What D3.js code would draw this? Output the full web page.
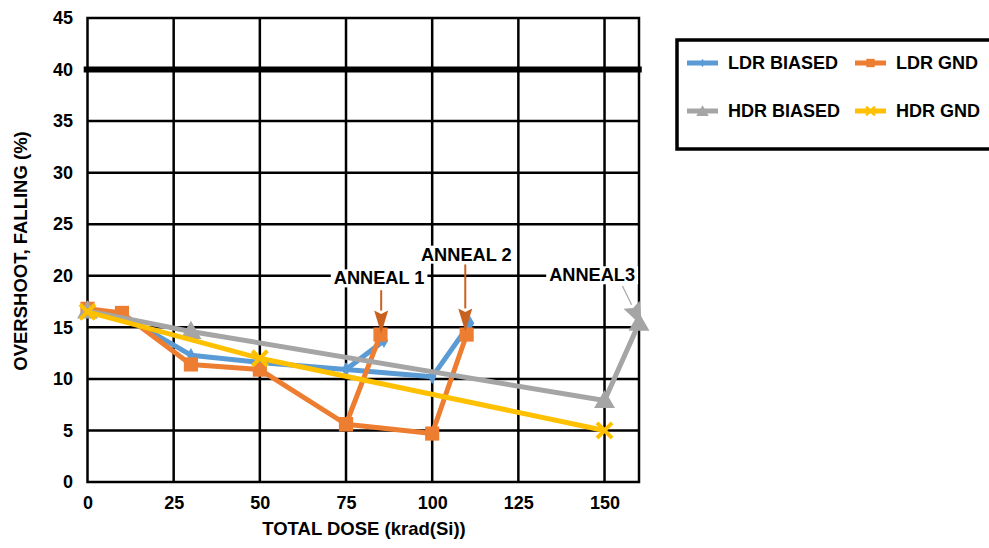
<!DOCTYPE html>
<html>
<head>
<meta charset="utf-8">
<script src="https://cdn.jsdelivr.net/npm/d3@7"></script>
<style>
  body { margin: 0; background: #fff; }
  svg { display: block; font-family: "Liberation Sans", Arial, sans-serif; font-weight: bold; }
</style>
</head>
<body>
<div class="div-chart"></div>
<script>
// series: total dose (krad(Si)) and falling overshoot (%)
const ldrBiasedDose = [0, 10, 30, 50, 75, 86, 75, 100, 111];
const ldrBiasedVal  = [16.6, 16.2, 12.3, 11.6, 10.9, 13.7, 10.9, 10.2, 15.4];
const ldrGndDose    = [0, 10, 30, 50, 75, 85, 75, 100, 110];
const ldrGndVal     = [16.8, 16.4, 11.4, 10.9, 5.6, 14.3, 5.6, 4.7, 14.3];
const hdrBiasedDose = [0, 30, 150, 160];
const hdrBiasedVal  = [16.6, 14.6, 7.9, 15.4];
const hdrGndDose    = [0, 50, 150];
const hdrGndVal     = [16.5, 12.0, 5.0];

const limitDose = [-1.1, 160.8];
const limitVal  = [40, 40];

const seriesNames = ['LDR BIASED', 'LDR GND', 'HDR BIASED', 'HDR GND'];
const xTicks = [0, 25, 50, 75, 100, 125, 150];
const yTicks = [0, 5, 10, 15, 20, 25, 30, 35, 40, 45];

// annotation labels: text anchor and arrow from/to, in data units
const annoLabels = ['ANNEAL 1', 'ANNEAL 2', 'ANNEAL3'];
const annoText   = [[84.6, 19.8], [109.9, 22.1], [146.4, 20.1]];
const annoFrom   = [[85.2, 18.6], [109.6, 21.1], [155.2, 19.0]];
const annoTo     = [[85.2, 14.4], [109.6, 14.6], [160.9, 15.1]];

const width = 989, height = 548;

const svg = d3.select('.div-chart')
    .append('svg')
    .attr('width', width)
    .attr('height', height);

const x = d3.scaleLinear().domain([0, 160]).range([87.5, 639]);
const y = d3.scaleLinear().domain([0, 45]).range([482, 18]);

const colors = ['#5B9BD5', '#ED7D31', '#A5A5A5', '#FFC000'];

// grid
const grid = svg.append('g').attr('stroke', '#000').attr('stroke-width', 2.5);
grid.selectAll('.hg')
    .data(yTicks.filter(v => v > 0 && v < 45))
    .enter().append('line')
    .attr('x1', x(0)).attr('x2', x(160))
    .attr('y1', d => y(d)).attr('y2', d => y(d));
grid.selectAll('.vg')
    .data(xTicks.filter(v => v > 0))
    .enter().append('line')
    .attr('y1', y(0)).attr('y2', y(45))
    .attr('x1', d => x(d)).attr('x2', d => x(d));
grid.append('rect')
    .attr('x', x(0)).attr('y', y(45))
    .attr('width', x(160) - x(0)).attr('height', y(0) - y(45))
    .attr('fill', 'none');

// axes (labels only)
const yAxis = svg.append('g')
    .attr('transform', `translate(${x(0)},0)`)
    .call(d3.axisLeft(y).tickValues(yTicks).tickSize(0).tickPadding(14.5));
const xAxis = svg.append('g')
    .attr('transform', `translate(0,${y(0)})`)
    .call(d3.axisBottom(x).tickValues(xTicks).tickSize(0).tickPadding(14.5));
[xAxis, yAxis].forEach(a => {
    a.select('.domain').remove();
    a.selectAll('text')
        .attr('font-size', 18)
        .attr('font-family', '"Liberation Sans", Arial, sans-serif')
        .attr('font-weight', 'bold')
        .attr('fill', '#000');
});

svg.append('text')
    .attr('x', 364).attr('y', 535)
    .attr('text-anchor', 'middle')
    .attr('font-size', 18.5)
    .text('TOTAL DOSE (krad(Si))');

svg.append('text')
    .attr('transform', 'translate(27,251) rotate(-90)')
    .attr('text-anchor', 'middle')
    .attr('font-size', 18.5)
    .text('OVERSHOOT, FALLING (%)');

// limit line at 40 %
const line = d3.line().x(d => x(d[0])).y(d => y(d[1]));
svg.append('path')
    .datum(d3.zip(limitDose, limitVal))
    .attr('d', line)
    .attr('fill', 'none')
    .attr('stroke', '#000')
    .attr('stroke-width', 6);

// series
const series = [
    d3.zip(ldrBiasedDose, ldrBiasedVal),
    d3.zip(ldrGndDose, ldrGndVal),
    d3.zip(hdrBiasedDose, hdrBiasedVal),
    d3.zip(hdrGndDose, hdrGndVal)
];
const symbols = [d3.symbolDiamond, d3.symbolSquare, d3.symbolTriangle, d3.symbolX];
const symSize = [60, 200, 190, 150];

function drawMarker(g, i, scale) {
    const p = g.append('path')
        .attr('d', d3.symbol().type(symbols[i]).size(symSize[i] * scale)());
    if (i === 3) {
        p.attr('fill', 'none').attr('stroke', colors[i]).attr('stroke-width', 4 * Math.sqrt(scale));
    } else {
        p.attr('fill', colors[i]);
    }
    if (i === 2) p.attr('transform', 'translate(0,1.5)');
}

series.forEach((pts, i) => {
    const g = svg.append('g');
    g.append('path')
        .datum(pts)
        .attr('d', line)
        .attr('fill', 'none')
        .attr('stroke', colors[i])
        .attr('stroke-width', 5)
        .attr('stroke-linejoin', 'round');
    pts.forEach(p => {
        const m = g.append('g').attr('transform', `translate(${x(p[0])},${y(p[1])})`);
        drawMarker(m, i, 1);
    });
});

// annotations
const annoColors = ['#C8621E', '#C8621E', '#A5A5A5'];
annoLabels.forEach((label, i) => {
    const g = svg.append('g');
    const t = g.append('text')
        .attr('x', x(annoText[i][0]))
        .attr('y', y(annoText[i][1]))
        .attr('dy', '0.36em')
        .attr('text-anchor', 'middle')
        .attr('font-size', 18.2)
        .text(label);
    const bb = t.node().getBBox();
    g.insert('rect', 'text')
        .attr('x', bb.x - 3).attr('y', bb.y + 1)
        .attr('width', bb.width + 6).attr('height', bb.height - 2)
        .attr('fill', '#fff');

    const x1 = x(annoFrom[i][0]), y1 = y(annoFrom[i][1]);
    const x2 = x(annoTo[i][0]), y2 = y(annoTo[i][1]);
    const ang = Math.atan2(y2 - y1, x2 - x1);
    const hl = i === 2 ? 24 : 23, hw = i === 2 ? 9 : 7;
    const bx = x2 - hl * Math.cos(ang), by = y2 - hl * Math.sin(ang);
    svg.append('line')
        .attr('x1', x1).attr('y1', y1).attr('x2', bx).attr('y2', by)
        .attr('stroke', annoColors[i])
        .attr('stroke-width', i === 2 ? 1.2 : 2);
    const nx = -Math.sin(ang), ny = Math.cos(ang);
    const nk = 0.15 * hl;
    svg.append('path')
        .attr('d', `M${x2},${y2}L${bx + nx * hw},${by + ny * hw}L${bx + nk * Math.cos(ang)},${by + nk * Math.sin(ang)}L${bx - nx * hw},${by - ny * hw}Z`)
        .attr('fill', annoColors[i]);
});

// legend
svg.append('rect')
    .attr('x', 677).attr('y', 40)
    .attr('width', 340).attr('height', 109)
    .attr('fill', '#fff')
    .attr('stroke', '#000')
    .attr('stroke-width', 3.5);

const legendPos = [[687, 63], [855, 63], [687, 111], [855, 111]];
seriesNames.forEach((name, i) => {
    const [lx, ly] = legendPos[i];
    const g = svg.append('g').attr('transform', `translate(${lx},${ly})`);
    g.append('line')
        .attr('x1', 0).attr('x2', 31)
        .attr('stroke', colors[i])
        .attr('stroke-width', 5);
    const m = g.append('g').attr('transform', 'translate(15.5,0)');
    drawMarker(m, i, 0.35);
    g.append('text')
        .attr('x', 41)
        .attr('dy', '0.36em')
        .attr('font-size', 18)
        .text(name);
});
</script>
</body>
</html>
